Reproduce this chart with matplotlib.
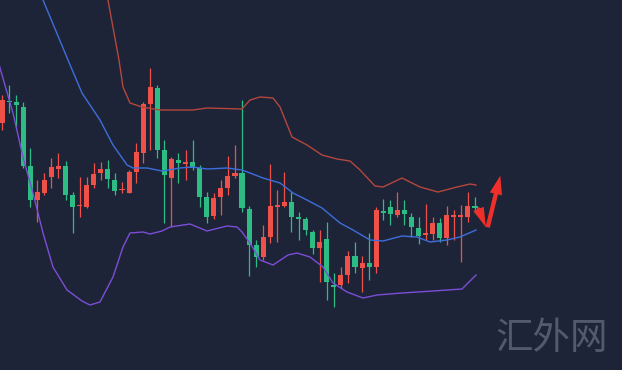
import matplotlib
matplotlib.use("Agg")
import matplotlib.pyplot as plt
from matplotlib.patches import FancyArrowPatch

# ---- candle data (arbitrary price units) ----
opens  = [277, 299, 298, 293, 234, 200, 207, 223, 231, 234, 205, 194, 193, 215, 227, 231, 220, 210,
          207, 228, 247, 296, 312, 250, 222, 240, 236.5, 238, 232, 203, 184, 203, 212, 224, 227, 191,
          155, 143, 163, 193.5, 194, 198, 182.5, 181, 168, 152, 161, 114.5, 115, 125, 144, 132, 137,
          133, 188.5, 193, 185, 190, 183, 172, 165.5, 166, 177, 162, 183.5, 183.5, 183, 193.5]
highs  = [305, 315, 305, 298, 252, 220, 227, 242, 247, 239, 208, 223, 223, 237, 238, 240, 227, 218,
          230, 257, 298, 332, 315, 260, 243, 247, 250, 260, 235, 208, 207, 220, 244, 255, 300, 194,
          160, 175, 236, 210, 228, 208, 188, 183, 170, 170, 178, 127, 133, 149, 158, 144, 167,
          193, 201, 200, 208, 200, 187, 183, 196, 183, 182, 194, 190, 195, 208, 203]
lows   = [270, 287, 273, 232, 193, 178, 205, 212, 222, 200, 167, 183, 192, 212, 220, 212, 205, 207,
          207, 217, 237, 250, 242, 177, 173, 217, 220, 230, 193, 177, 181, 185, 205, 222, 188, 124,
          133, 140, 157, 158, 193, 168, 160, 165, 146, 118, 100, 93, 112, 117, 127, 108, 120,
          127, 180, 175, 183, 175, 163, 156, 160, 160, 158, 155, 160, 138, 178, 187]
closes = [300, 298, 295, 234, 200, 208, 220, 233, 234, 205, 193, 195, 215, 226, 231, 221, 209, 211,
          228, 248, 296, 313, 250, 225, 241, 237, 237.5, 232, 203, 183, 202, 212, 224, 227, 192, 155,
          143, 163, 194, 194.5, 198, 183, 181.5, 170, 152, 158, 118, 113.5, 125, 144, 133, 137, 133,
          190, 187.5, 186, 190, 186, 173, 164, 166.5, 177, 162, 185, 184.5, 184.5, 194, 192.5]

# ---- Bollinger band traces (candle index, value) ----
upper_x = [14.45, 15.01, 16.57, 17.14, 18.13, 19.83, 22.38, 27.05, 29.04, 33.99, 35.13, 36.54, 38.39,
           39.38, 41.08, 43.2, 45.33, 47.45, 49.29, 50.71, 52.83, 53.97, 56.66, 59.21, 61.76, 64.45,
           66.29, 67.14]
upper_y = [430, 400, 340, 313, 297, 293, 290, 290, 292, 291, 300, 303, 302, 293, 263, 255, 245, 241,
           239, 230, 214, 213, 222, 213, 208, 213, 216, 215]
mid_x = [5.1, 5.81, 9.35, 11.33, 13.88, 15.72, 17.71, 18.56, 20.54, 22.66, 25.21, 27.05, 29.04, 31.87,
         33.99, 35.13, 36.97, 39.38, 41.22, 43.2, 45.33, 47.88, 49.72, 52.12, 53.97, 56.66, 58.78,
         60.62, 63.03, 64.87, 67.14]
mid_y = [415, 400, 340, 307, 280, 255, 235, 232, 232, 229, 232, 233, 231, 232, 230, 227, 222, 217,
         207, 200, 192, 177, 170, 160, 159, 164, 163, 158, 160, 163, 170]
lower_x = [-0.71, -0.28, 1.56, 2.97, 4.39, 5.81, 7.22, 9.21, 11.33, 12.46, 13.88, 15.72, 17.14, 18.13,
           19.97, 20.96, 22.66, 23.8, 26.63, 29.04, 31.87, 33.29, 33.99, 35.13, 36.54, 38.39, 40.51,
           41.78, 43.63, 45.47, 46.88, 48.87, 51.13, 53.12, 56.66, 61.05, 65.16, 67.14]
lower_y = [345, 332, 287, 243, 207, 167, 133, 110, 99, 95, 98, 123, 153, 167, 168, 166, 169, 173,
           176, 169, 174, 173, 168, 157, 140, 135, 145, 147, 143, 133, 117, 108, 102, 105, 107, 109,
           111, 125]

# ---- annotation arrows (candle index, price) ----
arrow_down = [(67.28, 195), (68.7, 170)]
arrow_up = [(68.7, 170), (70.68, 227)]
watermark = "汇外网"

BG = "#1e2437"
UP = "#ef5047"
DOWN = "#2dbd84"

fig = plt.figure(figsize=(6.22, 3.70), dpi=100)
fig.patch.set_facecolor(BG)
ax = fig.add_axes([0, 0, 1, 1])
ax.set_facecolor(BG)
ax.set_xlim(-0.283, 87.82)
ax.set_ylim(30, 400)
ax.axis("off")

idx = list(range(len(opens)))
colors = [UP if c >= o else DOWN for o, c in zip(opens, closes)]
ax.vlines(idx, lows, highs, colors=colors, linewidth=0.9, zorder=2)
bottoms = [min(o, c) for o, c in zip(opens, closes)]
heights = [max(abs(c - o), 1.2) for o, c in zip(opens, closes)]
ax.bar(idx, heights, bottom=bottoms, width=0.72, color=colors, linewidth=0, zorder=3)

ax.plot(upper_x, upper_y, color="#b4463d", lw=1.0, zorder=4, solid_joinstyle="round")
ax.plot(mid_x, mid_y, color="#3d6edb", lw=1.0, zorder=4, solid_joinstyle="round")
ax.plot(lower_x, lower_y, color="#7c4dd6", lw=1.0, zorder=4, solid_joinstyle="round")

ax.add_patch(FancyArrowPatch(arrow_down[0], arrow_down[1],
                             arrowstyle="simple,head_width=1.0,head_length=1.8,tail_width=0.25",
                             mutation_scale=8, color="#ee2f2a", lw=0, zorder=5))
ax.add_patch(FancyArrowPatch(arrow_up[0], arrow_up[1],
                             arrowstyle="simple,head_width=1.0,head_length=1.5,tail_width=0.35",
                             mutation_scale=9, color="#ee2f2a", lw=0, zorder=5))

fig.text(552 / 622, 1 - 338 / 370, watermark, color="#525a6c", fontsize=27, fontweight="light",
         family=["Noto Sans CJK SC", "DejaVu Sans"], ha="center", va="center")

fig.savefig("out.png", dpi=100, facecolor=BG)
